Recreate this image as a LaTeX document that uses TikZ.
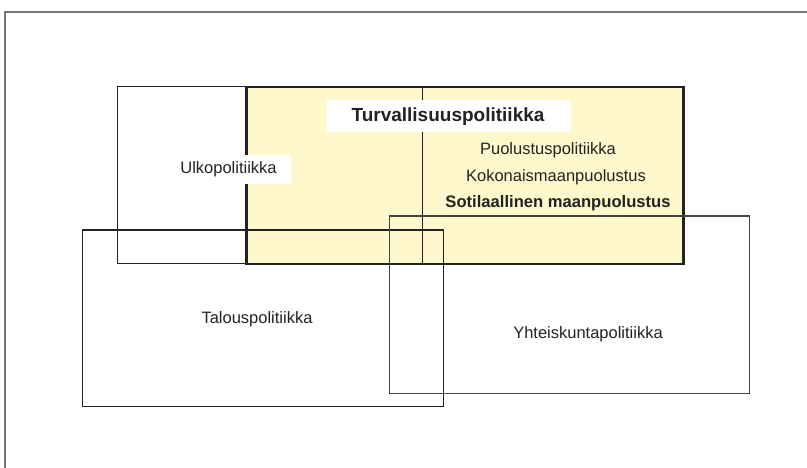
\documentclass[tikz,border=0pt]{standalone}
\usepackage{fontspec}
\setmainfont{Liberation Sans}
\definecolor{ink}{HTML}{222222}
\definecolor{paleyellow}{HTML}{FFF8CC}
\definecolor{framegray}{HTML}{777777}
\definecolor{softink}{HTML}{444444}
\begin{document}
\begin{tikzpicture}[x=1pt,y=-1pt,
  area/.style={draw=ink, line width=1.3pt, inner sep=0pt, anchor=north west},
  labelbox/.style={fill=white, inner sep=0pt},
  txt/.style={text=ink, inner sep=0pt, font=\fontsize{16.5}{19}\selectfont},
  boldtxt/.style={text=ink, inner sep=0pt, font=\fontsize{16.6}{19}\selectfont\bfseries},
  titletxt/.style={text=ink, inner sep=0pt, font=\fontsize{19}{22}\selectfont\bfseries}]
\useasboundingbox (0,0) rectangle (807,468);
% outer frame, open to the right and bottom
\coordinate (fbl) at (5,468);
\coordinate (ftl) at (5,12);
\coordinate (ftr) at (807,12);
\draw[framegray, line width=1.2pt] (fbl) -- (ftl) -- (ftr);
% foreign policy area
\node[area, minimum width=128.5pt, minimum height=177pt] (ulko) at (116.5,86) {};
% security policy area
\node[area, fill=paleyellow, line width=2.5pt, minimum width=437pt, minimum height=177pt] (turva) at (245,86) {};
\coordinate (vtop) at (422.5,86);
\coordinate (vbot) at (422.5,263);
\draw[ink, line width=1.2pt] (vtop) -- (vbot);
% economic and social policy areas
\node[area, minimum width=361pt, minimum height=176.5pt] (talous) at (82,229.5) {};
\node[area, draw=softink, minimum width=360.5pt, minimum height=177pt] (yhteis) at (388.5,215.5) {};
% white label backgrounds
\node[labelbox, minimum width=244pt, minimum height=32pt] (turvabg) at (449,116) {};
\node[labelbox, minimum width=125pt, minimum height=28.5pt] (ulkobg) at (228.5,169.3) {};
% labels
\node[titletxt] (turvalbl) at (448,116.5) {Turvallisuuspolitiikka};
\node[txt] (ulkolbl) at (228.5,169.5) {Ulkopolitiikka};
\node[txt] (puol) at (548,150) {Puolustuspolitiikka};
\node[txt] (koko) at (556,177) {Kokonaismaanpuolustus};
\node[boldtxt] (soti) at (558,203) {Sotilaallinen maanpuolustus};
\node[txt] (taloulbl) at (257,319) {Talouspolitiikka};
\node[txt] (yhteislbl) at (588,334) {Yhteiskuntapolitiikka};
\end{tikzpicture}
\end{document}
